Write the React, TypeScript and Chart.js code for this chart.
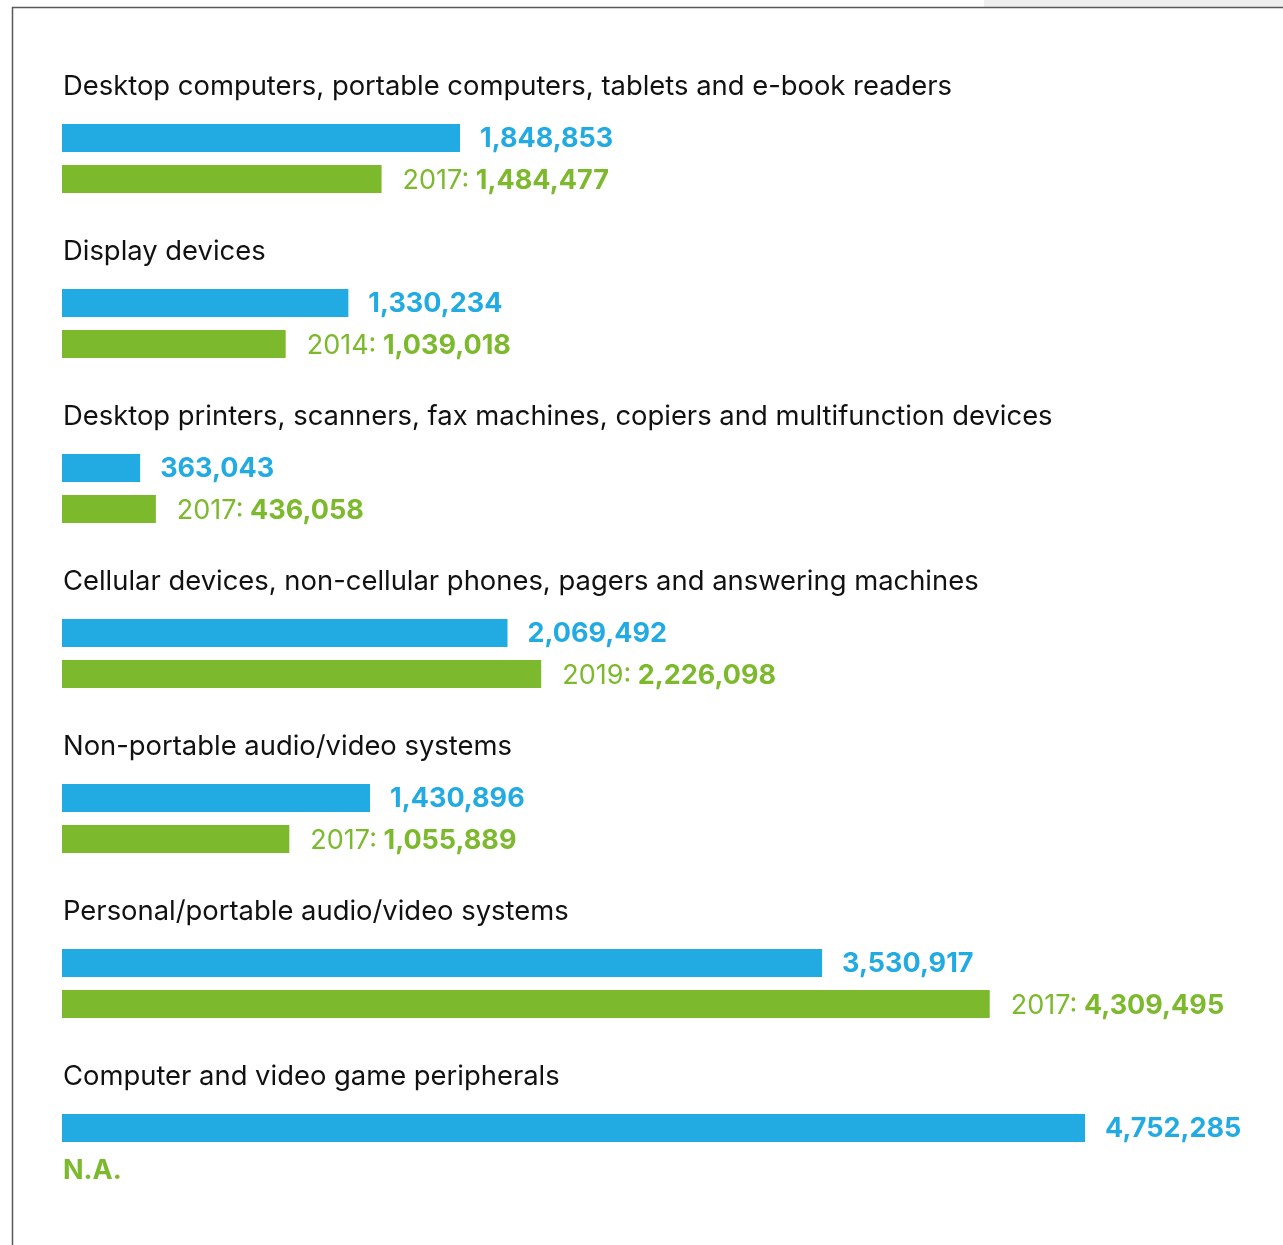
import React, { useEffect, useRef } from "react";
import { Chart, registerables } from "chart.js";

Chart.register(...registerables);

const categories = [
  "Desktop computers, portable computers, tablets and e-book readers",
  "Display devices",
  "Desktop printers, scanners, fax machines, copiers and multifunction devices",
  "Cellular devices, non-cellular phones, pagers and answering machines",
  "Non-portable audio/video systems",
  "Personal/portable audio/video systems",
  "Computer and video game peripherals",
];
const currentValues = [1848853, 1330234, 363043, 2069492, 1430896, 3530917, 4752285];
const previousValues: (number | null)[] = [1484477, 1039018, 436058, 2226098, 1055889, 4309495, null];
const previousYears: (string | null)[] = ["2017", "2014", "2017", "2019", "2017", "2017", null];

const BLUE = "#22abe2";
const GREEN = "#7cb92c";
const FONT = "Inter, 'Noto Sans', sans-serif";

const fmt = (v: number) => v.toLocaleString("en-US");

export default function App() {
  const ref = useRef<HTMLCanvasElement | null>(null);
  useEffect(() => {
    if (!ref.current) return;
    const labelPlugin = {
      id: "labels",
      beforeDraw(chart: any) {
        const ctx = chart.ctx;
        ctx.save();
        ctx.fillStyle = "#efefef";
        ctx.fillRect(984, 0, 1283 - 984, 7);
        ctx.strokeStyle = "#5a5a5a";
        ctx.lineWidth = 1.5;
        ctx.beginPath();
        ctx.moveTo(12, 7.5);
        ctx.lineTo(1283, 7.5);
        ctx.moveTo(12.5, 7);
        ctx.lineTo(12.5, 1245);
        ctx.stroke();
        ctx.restore();
      },
      afterDatasetsDraw(chart: any) {
        const ctx = chart.ctx;
        const m0 = chart.getDatasetMeta(0);
        const m1 = chart.getDatasetMeta(1);
        const left = chart.chartArea.left;
        ctx.save();
        ctx.textBaseline = "alphabetic";
        ctx.textAlign = "left";
        categories.forEach((cat, i) => {
          const b0 = m0.data[i];
          const b1 = m1.data[i];
          ctx.fillStyle = "#111111";
          ctx.font = `400 27.4px ${FONT}`;
          ctx.fillText(cat, left + 1, b0.y - 43);
          ctx.fillStyle = BLUE;
          ctx.font = `700 27px ${FONT}`;
          ctx.fillText(fmt(currentValues[i]), b0.x + 20, b0.y + 9.5);
          const pv = previousValues[i];
          const py = b1.y + 9.5;
          if (pv == null) {
            ctx.fillStyle = GREEN;
            ctx.font = `700 27px ${FONT}`;
            ctx.fillText("N.A.", left + 1, py);
          } else {
            const pre = `${previousYears[i]}: `;
            ctx.fillStyle = GREEN;
            ctx.font = `400 27px ${FONT}`;
            const x0 = b1.x + 21;
            ctx.fillText(pre, x0, py);
            const w = ctx.measureText(pre).width;
            ctx.font = `700 27px ${FONT}`;
            ctx.fillText(fmt(pv), x0 + w - 1, py);
          }
        });
        ctx.restore();
      },
    };
    const chart = new Chart(ref.current, {
      type: "bar",
      data: {
        labels: categories,
        datasets: [
          {
            data: currentValues,
            backgroundColor: BLUE,
            barPercentage: 0.683,
            categoryPercentage: 0.497,
          } as any,
          {
            data: previousValues,
            backgroundColor: GREEN,
            barPercentage: 0.683,
            categoryPercentage: 0.497,
          } as any,
        ],
      },
      options: {
        indexAxis: "y",
        responsive: false,
        animation: false,
        layout: { padding: { left: 62, top: 76, right: 37, bottom: 14 } },
        plugins: { legend: { display: false }, tooltip: { enabled: false } },
        scales: {
          x: { display: false, min: 0, max: 5500000 },
          y: { display: false },
        },
      },
      plugins: [labelPlugin],
    });
    return () => chart.destroy();
  }, []);
  return (
    <div style={{ position: "absolute", left: 0, top: 0, width: 1283, height: 1245, background: "#fff" }}>
      <canvas ref={ref} width={1283} height={1245} style={{ display: "block" }} />
    </div>
  );
}
